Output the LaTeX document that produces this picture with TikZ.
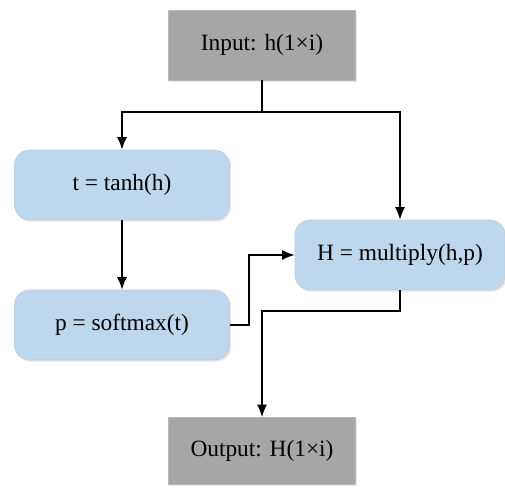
\documentclass[tikz,border=0pt]{standalone}
\usepackage{fontspec}
\setmainfont{Liberation Serif}
\usetikzlibrary{positioning,calc,shadows,arrows.meta}
\definecolor{boxgray}{RGB}{166,166,166}
\definecolor{boxblue}{RGB}{189,215,238}
\definecolor{edgegray}{RGB}{200,205,210}

\begin{document}
\begin{tikzpicture}[x=0.02cm, y=-0.02cm,
  every node/.style={font=\fontsize{13.3}{16}\selectfont, align=center, inner sep=0pt},
  graybox/.style={fill=boxgray, draw=boxgray!80, minimum width=3.74cm, minimum height=1.4cm,
    drop shadow={opacity=0.2, shadow xshift=1pt, shadow yshift=-1pt}},
  bluebox/.style={fill=boxblue, draw=edgegray, rounded corners=0.3cm, minimum height=1.4cm,
    drop shadow={opacity=0.2, shadow xshift=1pt, shadow yshift=-1pt}},
  link/.style={line width=0.8pt, -{Latex[length=2.5mm,width=2mm]}}]
\useasboundingbox (0,0) rectangle (505,489);
\node[graybox] (in) at (262,45) {Input: h(1×i)};
\node[bluebox, minimum width=4.3cm] (t) at (122,185) {t = tanh(h)};
\node[bluebox, minimum width=4.3cm] (p) at (122,325) {p = softmax(t)};
\node[bluebox, minimum width=4.2cm] (H) at (400,255) {H = multiply(h,p)};
\node[graybox, minimum height=1.34cm] (out) at (262,451) {Output: H(1×i)};
\coordinate (split) at (262,112);
\draw[line width=0.8pt] (in.south) -- (split);
\draw[link] (split) -| (t.north);
\draw[link] (split) -| (H.north);
\draw[link] (t) -- (p);
\draw[link] (p.east) -- ++(19,0) |- (H.west);
\draw[link] (H.south) -- ++(0,20.5) -| (out.north);
\end{tikzpicture}
\end{document}
